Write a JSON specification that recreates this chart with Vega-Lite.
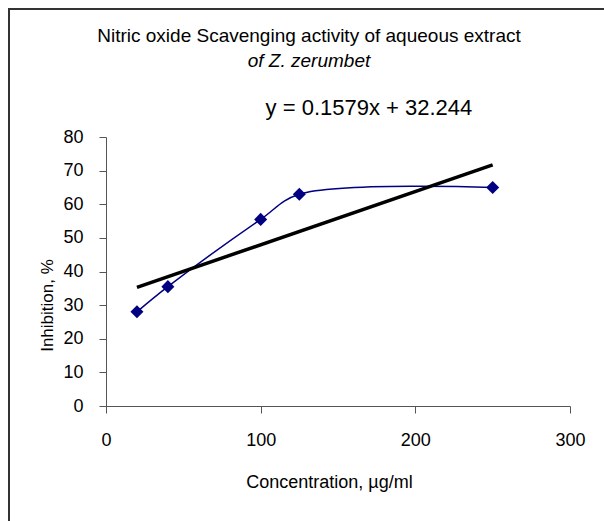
{
  "$schema": "https://vega.github.io/schema/vega-lite/v6.json",
  "width": 600,
  "height": 520,
  "autosize": {"type": "none"},
  "padding": {"left": 9, "top": 9, "right": 0, "bottom": 0},
  "config": {
    "view": {"stroke": "#333333", "strokeWidth": 2},
    "font": "Liberation Sans"
  },
  "title": {
    "text": "Nitric oxide Scavenging activity of aqueous extract",
    "subtitle": "of Z. zerumbet",
    "font": "Liberation Sans",
    "subtitleFont": "Liberation Sans",
    "fontSize": 19,
    "subtitleFontSize": 19,
    "fontWeight": "normal",
    "subtitleFontStyle": "italic",
    "color": "#000000",
    "subtitleColor": "#000000",
    "anchor": "middle",
    "subtitlePadding": 6,
    "offset": -62
  },
  "datasets": {
    "points": [
      {"c": 20, "inh": 28},
      {"c": 40, "inh": 35.5},
      {"c": 100, "inh": 55.5},
      {"c": 125, "inh": 63},
      {"c": 250, "inh": 65}
    ],
    "trend": [
      {"c": 20, "inh": 35.3},
      {"c": 250, "inh": 71.7}
    ],
    "eq": [
      {"c": 170, "inh": 88.6, "label": "y = 0.1579x + 32.244"}
    ]
  },
  "encoding": {
    "x": {
      "field": "c",
      "type": "quantitative",
      "scale": {"domain": [0, 300], "range": [97, 561], "nice": false, "zero": false},
      "axis": {
        "title": "Concentration, µg/ml",
        "values": [0, 100, 200, 300],
        "offset": -123,
        "grid": false,
        "labelFlush": false,
        "labelOverlap": false,
        "domainColor": "#555555",
        "tickColor": "#555555",
        "tickSize": 7,
        "labelPadding": 18,
        "labelFontSize": 18,
        "labelColor": "#000000",
        "labelFont": "Liberation Sans",
        "titleFont": "Liberation Sans",
        "titleFontSize": 18,
        "titleFontWeight": "normal",
        "titleColor": "#000000",
        "titleX": 320,
        "titleY": 76,
        "titleBaseline": "middle",
        "titleAnchor": null
      }
    },
    "y": {
      "field": "inh",
      "type": "quantitative",
      "scale": {"domain": [0, 80], "range": [397, 128], "nice": false, "zero": false},
      "axis": {
        "title": "Inhibition, %",
        "values": [0, 10, 20, 30, 40, 50, 60, 70, 80],
        "offset": -97,
        "grid": false,
        "labelFlush": false,
        "labelOverlap": false,
        "domainColor": "#555555",
        "tickColor": "#555555",
        "tickSize": 7,
        "labelPadding": 16,
        "labelFontSize": 18,
        "labelColor": "#000000",
        "labelFont": "Liberation Sans",
        "titleFont": "Liberation Sans",
        "titleFontSize": 17,
        "titleFontWeight": "normal",
        "titleColor": "#000000",
        "titleAngle": -90,
        "titleX": -59,
        "titleY": 296,
        "titleBaseline": "middle",
        "titleAlign": "center",
        "titleAnchor": null
      }
    }
  },
  "layer": [
    {
      "data": {"name": "points"},
      "mark": {"type": "line", "interpolate": "catmull-rom", "color": "#000080", "strokeWidth": 1.5}
    },
    {
      "data": {"name": "points"},
      "mark": {"type": "point", "shape": "diamond", "filled": true, "color": "#000080", "size": 170, "opacity": 1}
    },
    {
      "data": {"name": "trend"},
      "mark": {"type": "line", "color": "#000000", "strokeWidth": 3.5}
    },
    {
      "data": {"name": "eq"},
      "mark": {"type": "text", "fontSize": 22, "font": "Liberation Sans", "color": "#000000", "align": "center", "baseline": "middle"},
      "encoding": {"text": {"field": "label"}}
    }
  ]
}
